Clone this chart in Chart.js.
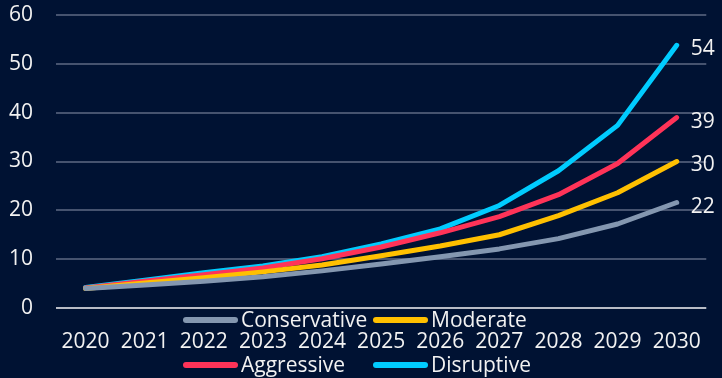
<!DOCTYPE html>
<html>
<head>
<meta charset="utf-8">
<script src="https://cdn.jsdelivr.net/npm/chart.js@4"></script>
<style>
  html, body { margin: 0; padding: 0; background: #001233; }
  #wrap { width: 722px; height: 378px; }
</style>
</head>
<body>
<div id="wrap"><canvas id="growth-chart"></canvas></div>
<script>
// Scenario data
const years = ['2020', '2021', '2022', '2023', '2024', '2025', '2026', '2027', '2028', '2029', '2030'];
const conservative = [4.0, 4.7, 5.5, 6.4, 7.6, 9.0, 10.5, 12.1, 14.2, 17.2, 21.6];
const moderate = [4.0, 5.1, 6.2, 7.4, 8.8, 10.7, 12.7, 15.0, 18.9, 23.6, 30.0];
const aggressive = [4.1, 5.5, 6.8, 8.2, 10.1, 12.5, 15.4, 18.7, 23.2, 29.6, 39.0];
const disruptive = [4.2, 5.7, 7.2, 8.6, 10.5, 13.1, 16.2, 21.0, 28.1, 37.4, 53.8];
const endLabels = ['22', '30', '39', '54'];
const yTicks = [0, 10, 20, 30, 40, 50, 60];

const FONT = '"Open Sans", sans-serif';
const TEXT_COLOR = '#f2f2f2';

function makeSeries(label, data, color) {
    return {
        label: label,
        data: data,
        borderColor: color,
        backgroundColor: color,
        borderWidth: 5,
        pointRadius: 0,
        tension: 0,
        borderCapStyle: 'round',
        borderJoinStyle: 'round'
    };
}

// paint the navy background
const bgPlugin = {
    id: 'bg',
    beforeDraw(chart) {
        const ctx = chart.ctx;
        ctx.save();
        ctx.fillStyle = '#001233';
        ctx.fillRect(0, 0, chart.width, chart.height);
        ctx.restore();
    }
};

// value labels at the last point of each line
const endLabelPlugin = {
    id: 'endLabels',
    afterDatasetsDraw(chart) {
        const ctx = chart.ctx;
        ctx.save();
        ctx.font = '21px ' + FONT;
        ctx.fillStyle = TEXT_COLOR;
        ctx.textAlign = 'left';
        ctx.textBaseline = 'middle';
        chart.data.datasets.forEach((ds, i) => {
            const meta = chart.getDatasetMeta(i);
            const pt = meta.data[meta.data.length - 1];
            ctx.fillText(endLabels[i], pt.x + 14, pt.y + 4);
        });
        ctx.restore();
    }
};

// legend laid out as a 2x2 grid across the tick labels, like the original
const gridLegendPlugin = {
    id: 'gridLegend',
    afterDraw(chart) {
        const ctx = chart.ctx;
        const cols = [183, 373];
        const rows = [320, 365];
        ctx.save();
        ctx.font = '21px ' + FONT;
        ctx.textBaseline = 'middle';
        ctx.lineCap = 'round';
        ctx.lineWidth = 6;
        chart.data.datasets.forEach((ds, i) => {
            const x = cols[i % 2];
            const y = rows[Math.floor(i / 2)];
            ctx.strokeStyle = ds.borderColor;
            ctx.beginPath();
            ctx.moveTo(x + 3, y);
            ctx.lineTo(x + 52, y);
            ctx.stroke();
            ctx.fillStyle = TEXT_COLOR;
            ctx.fillText(ds.label, x + 58, y + 1);
        });
        ctx.restore();
    }
};

const chart = new Chart(document.getElementById('growth-chart'), {
    type: 'line',
    data: {
        labels: years,
        datasets: [
            makeSeries('Conservative', conservative, '#8497B0'),
            makeSeries('Moderate', moderate, '#FFC000'),
            makeSeries('Aggressive', aggressive, '#FF3358'),
            makeSeries('Disruptive', disruptive, '#00CCFF')
        ]
    },
    options: {
        responsive: true,
        maintainAspectRatio: false,
        animation: false,
        layout: { padding: { top: 0, right: 6, left: 0, bottom: 0 } },
        plugins: {
            legend: { display: false },
            tooltip: { enabled: false }
        },
        scales: {
            x: {
                offset: true,
                grid: { display: false, drawTicks: false },
                border: { display: false },
                ticks: {
                    color: TEXT_COLOR,
                    font: { family: FONT, size: 21 },
                    padding: 21,
                    maxRotation: 0,
                    autoSkip: false
                },
                afterFit(scale) { scale.height = 70; }
            },
            y: {
                min: 0,
                max: 60,
                afterBuildTicks(scale) {
                    scale.ticks = yTicks.map(v => ({ value: v }));
                },
                grid: {
                    drawTicks: false,
                    lineWidth: 2,
                    color: ctx => ctx.tick && ctx.tick.value === 0 ? '#b8bcc6' : '#46536f'
                },
                border: { display: false },
                ticks: {
                    color: TEXT_COLOR,
                    font: { family: FONT, size: 21 },
                    padding: 23
                },
                afterFit(scale) {
                    scale.width = 56;
                    // keep the 60 line near the top edge
                    scale.paddingTop = 15;
                    scale.paddingBottom = 0;
                }
            }
        }
    },
    plugins: [bgPlugin, endLabelPlugin, gridLegendPlugin]
});
</script>
</body>
</html>
